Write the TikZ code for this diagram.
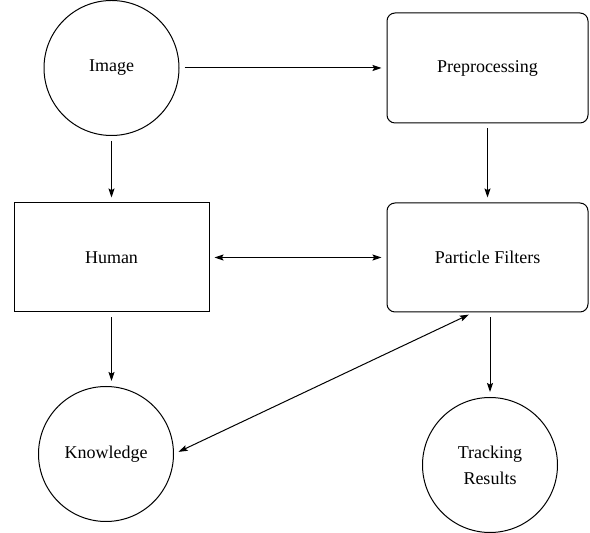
\documentclass[tikz,border=0pt]{standalone}
\usepackage{fontspec}
\setmainfont{Liberation Serif}
\usetikzlibrary{arrows.meta,calc}
\tikzset{
  roundnode/.style={draw,circle,minimum size=67.5pt,inner sep=0pt,align=center},
  boxnode/.style={draw,rectangle,minimum width=100.5pt,minimum height=55pt,inner sep=0pt},
  rboxnode/.style={boxnode,rounded corners=4pt},
  flow/.style={->,shorten >=2.5pt,shorten <=2.5pt},
}
\begin{document}
\begin{tikzpicture}[x=0.5pt,y=-0.5pt,line width=0.5pt,>={Stealth[length=4.5pt,width=3pt,inset=0.8pt]},font=\fontsize{9}{11}\selectfont]
	\useasboundingbox (0,0) rectangle (590,533);
	\node[roundnode] (image) at (111.5,68) {Image};
	\node[rboxnode] (prep) at (487.5,68) {Preprocessing};
	\node[boxnode,minimum width=97.5pt,minimum height=54.5pt] (human) at (111.5,257.5) {Human};
	\node[rboxnode,minimum height=54.5pt] (pf) at (487.5,257.5) {Particle Filters};
	\node[roundnode] (know) at (106,454) {Knowledge};
	\node[roundnode] (track) at (490,465) {Tracking\\[2pt]Results};
	\coordinate (pfend) at ($(pf.south west)!0.43!(pf.south east)$);
	\draw[flow] (image) -- (prep);
	\draw[flow] (image) -- (human);
	\draw[flow] (prep) -- (pf);
	\draw[flow,<->] (human) -- (pf);
	\draw[flow] (human.south) -- (human.south |- know.north);
	\draw[flow] (pf.south -| track) -- (track);
	\draw[flow,<->] (know.east) -- (pfend);
\end{tikzpicture}
\end{document}
